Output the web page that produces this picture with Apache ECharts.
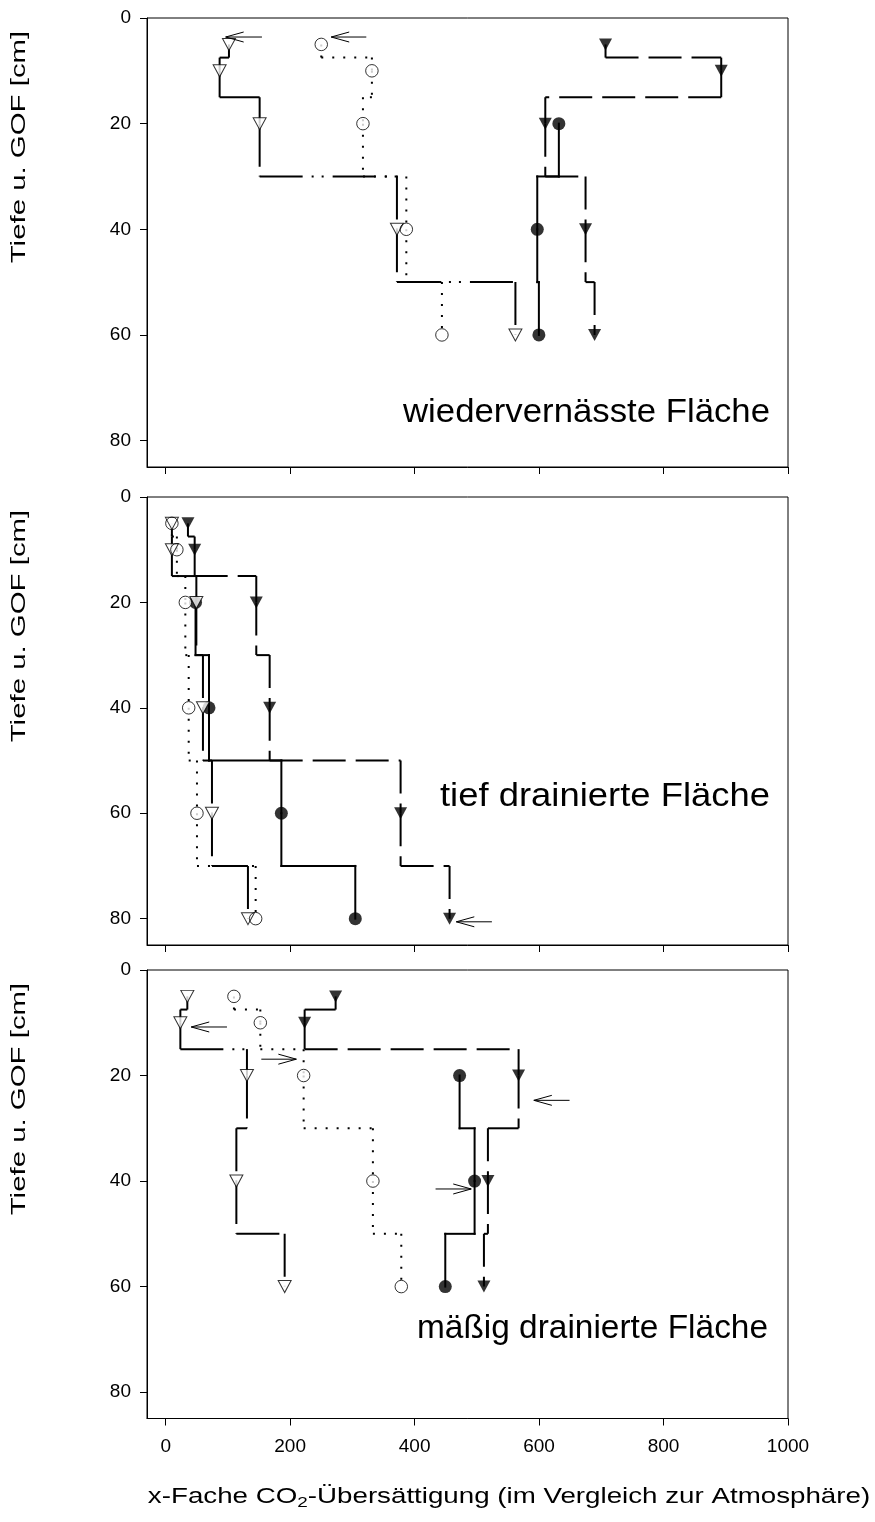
<!DOCTYPE html>
<html>
<head>
<meta charset="utf-8">
<script src="https://cdn.jsdelivr.net/npm/echarts@6/dist/echarts.min.js"></script>
<style>
  html, body { margin: 0; padding: 0; background: #fff; }
  #chart { width: 875px; height: 1522px; }
</style>
</head>
<body>
<div id="chart"></div>
<script>
// ---- data -------------------------------------------------------------
const xTicks = [0, 200, 400, 600, 800, 1000];
const depthTicks = [0, 20, 40, 60, 80];
const depths = [5, 10, 20, 40, 60, 80];          // sampling depths [cm]
const layerBounds = [7.5, 15, 30, 50, 70];       // boundaries between sampled layers
const panelNames = ['wiedervernässte Fläche', 'tief drainierte Fläche', 'mäßig drainierte Fläche'];

// CO2 supersaturation per depth (null = not measured)
const wetOpenTri   = [101.7, 86.7, 151, 371.6, 562, null];
const wetOpenCirc  = [250, 331.4, 317, 386.7, 443.9, null];
const wetFillTri   = [706.8, 892.7, 610, 674.7, 689.2, null];
const wetFillCirc  = [null, null, 631.8, 597.1, 599.7, null];

const deepOpenTri  = [10, 10, 49.3, 59.9, 74.4, 132.2];
const deepOpenCirc = [10, 18, 31.6, 37, 50.3, 144.6];
const deepFillTri  = [35.8, 46.6, 145.6, 167.1, 377.5, 456.2];
const deepFillCirc = [null, null, 48, 69.6, 185.9, 304.7];

const modOpenTri   = [34.8, 23.6, 130.6, 113.6, 191.2, null];
const modOpenCirc  = [109.7, 152.1, 221.7, 333, 378.6, null];
const modFillTri   = [273.1, 223.3, 567.1, 517.8, 511.4, null];
const modFillCirc  = [null, null, 472.3, 496.4, 449.3, null];

// pointer arrows: [depth, tail value, tip value]
const wetArrows  = [[3.6, 154.7, 96.4], [3.6, 322.4, 266]];
const deepArrows = [[80.6, 524.2, 467]];
const modArrows  = [[10.8, 98.5, 41.1], [16.9, 153.7, 210], [24.7, 649, 591.6], [41.5, 433.7, 491]];

// ---- layout -----------------------------------------------------------
const FONT = '"Liberation Sans", Arial, Helvetica, sans-serif';
const panels = [
  { top: 18,  height: 449,   series: [wetOpenTri, wetOpenCirc, wetFillTri, wetFillCirc],
    arrows: wetArrows,  label: { left: 403, right: 770, cy: 413 } },
  { top: 497, height: 448,   series: [deepOpenTri, deepOpenCirc, deepFillTri, deepFillCirc],
    arrows: deepArrows, label: { left: 440, right: 770, cy: 797 } },
  { top: 970, height: 448.5, series: [modOpenTri, modOpenCirc, modFillTri, modFillCirc],
    arrows: modArrows,  label: { left: 417, right: 768, cy: 1329 } }
];
const GRID_LEFT = 147, GRID_WIDTH = 641;
const LABEL_FONT = '33px ' + FONT;

// text width helper for fitting the area names into their slots
const measureCtx = document.createElement('canvas').getContext('2d');
function textWidth(text, font) { measureCtx.font = font; return measureCtx.measureText(text).width; }

// line dash per profile: open triangles, open circles, filled triangles, filled circles
const dashes = [[43, 9, 2, 8, 2, 9], [2, 9], [33, 10], null];

// step profile: each sample is a vertical bar over its layer, joined at the layer boundaries
function stepSegments(vals) {
  const segs = [];
  for (let i = 0; i < vals.length - 1; i++) {
    const a = vals[i], b = vals[i + 1];
    if (a == null || b == null) continue;
    const bd = layerBounds[i];
    segs.push([a, depths[i], a, bd]);
    if (a !== b) segs.push([a, bd, b, bd]);
    segs.push([b, bd, b, depths[i + 1]]);
  }
  return segs;
}
function points(vals) {
  const out = [];
  vals.forEach((v, i) => { if (v != null) out.push([v, depths[i]]); });
  return out;
}
function segRenderer(dash) {
  return function (params, api) {
    const p1 = api.coord([api.value(0), api.value(1)]);
    const p2 = api.coord([api.value(2), api.value(3)]);
    return {
      type: 'line',
      shape: { x1: p1[0], y1: p1[1], x2: p2[0], y2: p2[1] },
      style: { stroke: '#000', lineWidth: 2, lineDash: dash || null, lineCap: dash ? 'butt' : 'square' }
    };
  };
}
function arrowRenderer(params, api) {
  const tail = api.coord([api.value(1), api.value(0)]);
  const tip = api.coord([api.value(2), api.value(0)]);
  const dir = Math.sign(tail[0] - tip[0]);
  const hl = 18, hw = 5;
  return {
    type: 'group',
    children: [
      { type: 'line', shape: { x1: tail[0], y1: tail[1], x2: tip[0], y2: tip[1] }, style: { stroke: '#000', lineWidth: 1 } },
      { type: 'polyline', shape: { points: [[tip[0] + dir * hl, tip[1] - hw], [tip[0], tip[1]], [tip[0] + dir * hl, tip[1] + hw]] },
        style: { stroke: '#000', lineWidth: 1, fill: null } }
    ]
  };
}

const grid = [], xAxis = [], yAxis = [], series = [], graphic = [];
panels.forEach((p, gi) => {
  const last = gi === panels.length - 1;
  grid.push({ left: GRID_LEFT, width: GRID_WIDTH, top: p.top, height: p.height,
              show: true, borderColor: '#000', borderWidth: 1, backgroundColor: 'transparent' });
  xAxis.push({
    gridIndex: gi, type: 'value', min: -30, max: 1000,
    axisLine: { show: true, onZero: false, lineStyle: { color: '#000', width: 1 } },
    axisTick: { show: true, inside: false, length: 7, customValues: xTicks, lineStyle: { color: '#000' } },
    axisLabel: { show: last, customValues: xTicks, margin: 19, color: '#000', fontSize: 19, fontFamily: FONT,
                 formatter: v => String(v) },
    splitLine: { show: false }
  });
  yAxis.push({
    gridIndex: gi, type: 'value', inverse: true, min: 0, max: 85,
    axisLine: { show: true, onZero: false, lineStyle: { color: '#000', width: 1 } },
    axisTick: { show: true, inside: false, length: 7, customValues: depthTicks, lineStyle: { color: '#000' } },
    axisLabel: { show: true, customValues: depthTicks, margin: 16, color: '#000', fontSize: 19, fontFamily: FONT,
                 formatter: v => String(v) },
    splitLine: { show: false }
  });

  // profile lines
  p.series.forEach((vals, si) => {
    series.push({
      type: 'custom', xAxisIndex: gi, yAxisIndex: gi, z: 2, silent: true,
      renderItem: segRenderer(dashes[si]),
      encode: { x: [0, 2], y: [1, 3] },
      data: stepSegments(vals)
    });
  });
  // filled circles sit beneath the open symbols; open symbols get a white fill layer and an outline layer
  const [oTri, oCirc, fTri, fCirc] = p.series;
  const triSize = [13, 12];
  series.push({ type: 'scatter', xAxisIndex: gi, yAxisIndex: gi, z: 3, silent: true,
    symbol: 'circle', symbolSize: 13,
    itemStyle: { color: '#000' }, data: points(fCirc) });
  series.push({ type: 'scatter', xAxisIndex: gi, yAxisIndex: gi, z: 4, silent: true,
    symbol: 'triangle', symbolRotate: 180, symbolSize: triSize,
    itemStyle: { color: '#fff', borderWidth: 0 }, data: points(oTri) });
  series.push({ type: 'scatter', xAxisIndex: gi, yAxisIndex: gi, z: 4, silent: true,
    symbol: 'circle', symbolSize: 12.5,
    itemStyle: { color: '#fff', borderWidth: 0 }, data: points(oCirc) });
  series.push({ type: 'scatter', xAxisIndex: gi, yAxisIndex: gi, z: 5, silent: true,
    symbol: 'triangle', symbolRotate: 180, symbolSize: triSize,
    itemStyle: { color: 'rgba(0,0,0,0)', borderColor: '#000', borderWidth: 1 }, data: points(oTri) });
  series.push({ type: 'scatter', xAxisIndex: gi, yAxisIndex: gi, z: 5, silent: true,
    symbol: 'circle', symbolSize: 12.5,
    itemStyle: { color: 'rgba(0,0,0,0)', borderColor: '#000', borderWidth: 1 }, data: points(oCirc) });
  series.push({ type: 'scatter', xAxisIndex: gi, yAxisIndex: gi, z: 5, silent: true,
    symbol: 'triangle', symbolRotate: 180, symbolSize: triSize,
    itemStyle: { color: '#000' }, data: points(fTri) });
  // pointer arrows
  series.push({ type: 'custom', xAxisIndex: gi, yAxisIndex: gi, z: 6, silent: true,
    renderItem: arrowRenderer, encode: { x: [1, 2], y: 0 }, data: p.arrows });

  // axis title and area name
  graphic.push({ type: 'text', x: 19, y: p.top + 129, rotation: Math.PI / 2, scaleX: 1.4,
    style: { text: 'Tiefe u. GOF [cm]', fill: '#000', font: '21px ' + FONT, align: 'center', verticalAlign: 'middle' } });
  const lb = p.label;
  const sx = (lb.right - lb.left) / textWidth(panelNames[gi], LABEL_FONT);
  graphic.push({ type: 'text', x: lb.right, y: lb.cy, scaleX: sx,
    style: { text: panelNames[gi], fill: '#000', font: LABEL_FONT, align: 'right', verticalAlign: 'middle' } });
});

graphic.push({ type: 'text', x: 509, y: 1497, scaleX: 1.26,
  style: {
    text: '{n|x-Fache CO}{s|2}{n|-Übersättigung (im Vergleich zur Atmosphäre)}',
    align: 'center', verticalAlign: 'middle',
    rich: {
      n: { fontSize: 22, fontFamily: FONT, fill: '#000', lineHeight: 27 },
      s: { fontSize: 15, fontFamily: FONT, fill: '#000', lineHeight: 12, verticalAlign: 'bottom' }
    }
  }
});

const chart = echarts.init(document.getElementById('chart'), null, { renderer: 'canvas' });
chart.setOption({ animation: false, backgroundColor: '#fff', grid, xAxis, yAxis, series, graphic });
</script>
</body>
</html>
